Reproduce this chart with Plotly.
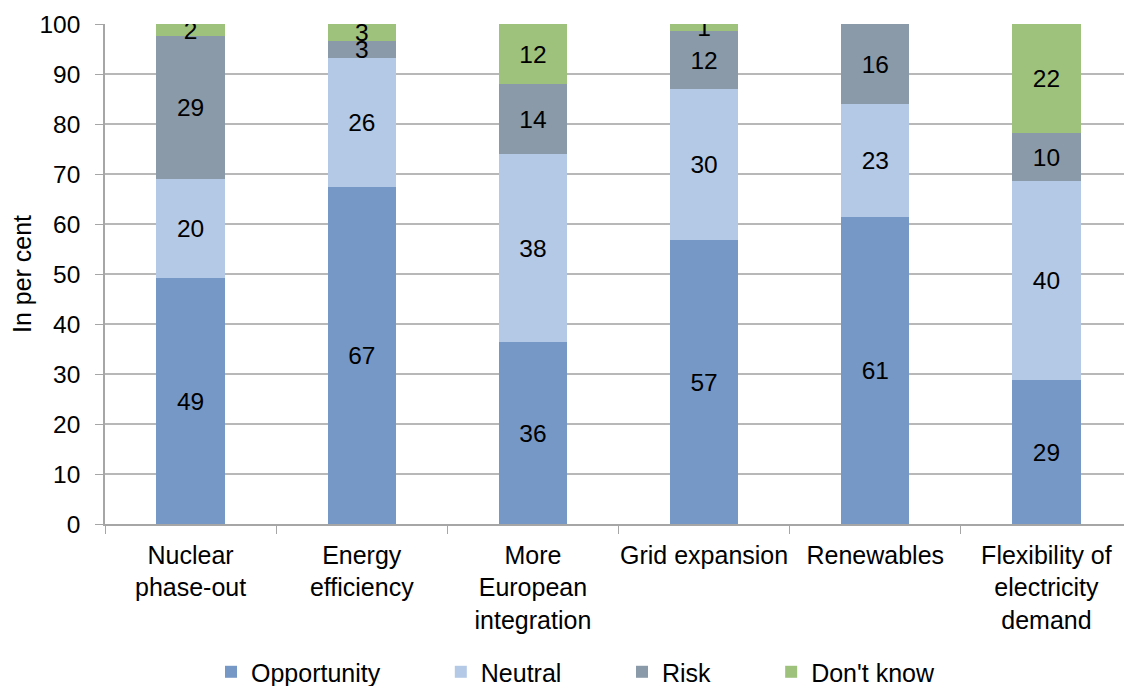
import plotly.graph_objects as go

categories = ["Nuclear<br>phase-out", "Energy<br>efficiency", "More<br>European<br>integration",
              "Grid expansion", "Renewables", "Flexibility of<br>electricity<br>demand"]
opportunity = [49.2, 67.4, 36.4, 56.8, 61.4, 28.8]
neutral = [19.8, 25.8, 37.6, 30.2, 22.6, 39.8]
risk = [28.6, 3.4, 14.0, 11.6, 16.0, 9.6]
dont_know = [2.4, 3.4, 12.0, 1.4, 0.0, 21.8]

series = [
    ("Opportunity", opportunity, "#7698c7"),
    ("Neutral", neutral, "#b3c9e6"),
    ("Risk", risk, "#8a9aa8"),
    ("Don't know", dont_know, "#9ec17c"),
]

FONT = "Liberation Sans, Arial, sans-serif"
FS = 25
FN = 24.5
PAD = "\u00a0" * 8

fig = go.Figure()
for name, vals, col in series:
    fig.add_trace(go.Bar(
        x=categories, y=vals, name=name + PAD,
        marker=dict(color=col, line=dict(width=0)),
        text=[str(round(v)) if v >= 0.5 else "" for v in vals],
        textposition="inside", insidetextanchor="middle",
        textangle=0, constraintext="none",
        textfont=dict(color="black", size=FN, family=FONT),
        hoverinfo="skip",
    ))

fig.update_layout(
    barmode="stack", bargap=0.6,
    width=1124, height=678,
    margin=dict(l=97, r=0, t=16, b=162),
    plot_bgcolor="white", paper_bgcolor="white",
    font=dict(family=FONT, size=FS, color="black"),
    legend=dict(orientation="h", x=0.1806, xanchor="left", xref="container",
                y=0.0206, yanchor="middle", yref="container",
                font=dict(size=FS, family=FONT), traceorder="normal"),
    xaxis=dict(showline=True, linecolor="#a6a6a6", linewidth=1.5, automargin=False,
               ticks="outside", tickson="boundaries", ticklen=8, tickcolor="#a6a6a6",
               ticklabelstandoff=8, tickangle=0,
               tickfont=dict(size=FS, family=FONT), range=[-0.5, 5.5]),
    yaxis=dict(range=[0, 100], dtick=10, showgrid=True, gridcolor="#b8b8b8", gridwidth=1.5,
               showline=True, linecolor="#a6a6a6", linewidth=1.5, automargin=False,
               ticks="outside", ticklen=8, tickcolor="#a6a6a6", ticklabelstandoff=10,
               tickfont=dict(size=FN, family=FONT),
               title=dict(text="In per cent", font=dict(size=FS, family=FONT), standoff=3),
               zeroline=False),
)

fig.write_html("out.html")
